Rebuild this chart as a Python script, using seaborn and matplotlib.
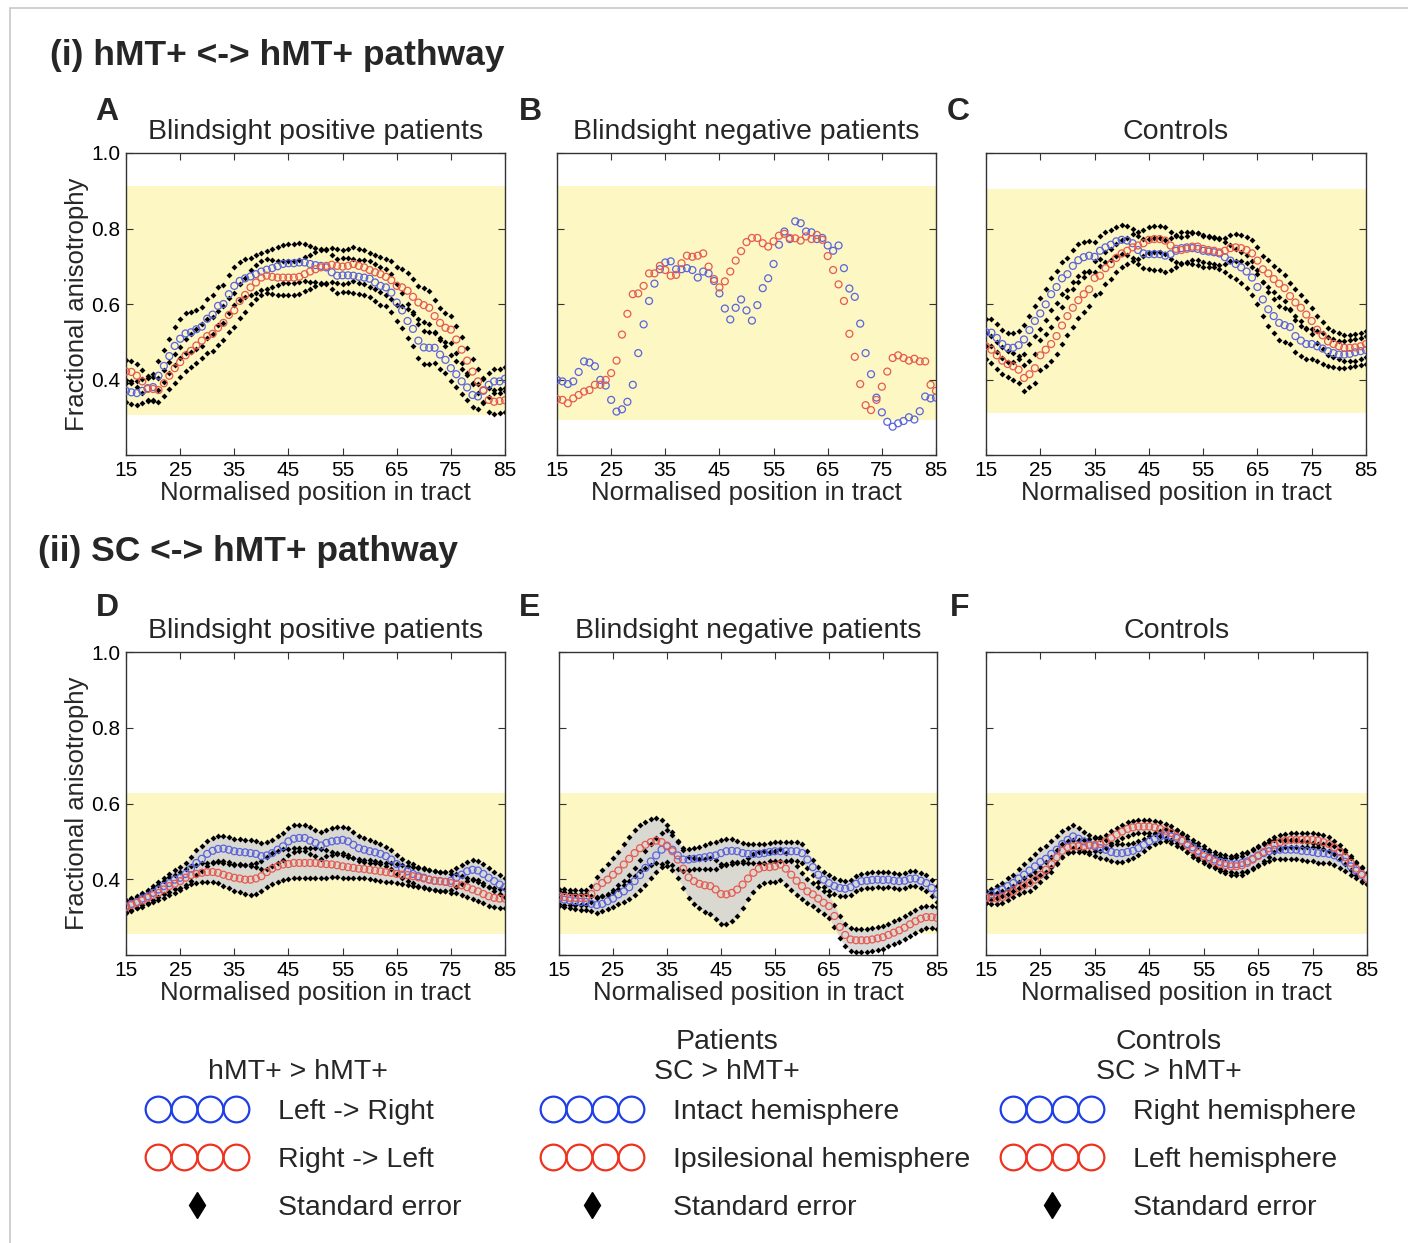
import numpy as np
import pandas as pd
import matplotlib
matplotlib.use("Agg")
import matplotlib.pyplot as plt
import seaborn as sns
from matplotlib.lines import Line2D
from matplotlib.legend_handler import HandlerLine2D
from matplotlib.patches import Rectangle

# ---------------- data (FA values in thousandths) ----------------
positions = list(range(15, 86))
x_ticks = [15, 25, 35, 45, 55, 65, 75, 85]
y_ticks = [0.2, 0.4, 0.6, 0.8, 1.0]
y_ticklabels = ["", "0.4", "0.6", "0.8", "1.0"]

A_blue = [370, 366, 364, 370, 377, 380, 410, 436, 462, 489,
          508, 522, 525, 533, 540, 561, 572, 595, 600, 626,
          648, 661, 668, 673, 679, 686, 691, 695, 700, 706,
          708, 708, 710, 710, 706, 703, 701, 697, 684, 675,
          676, 676, 675, 672, 670, 667, 657, 648, 644, 630,
          604, 583, 555, 534, 503, 485, 484, 484, 466, 452,
          430, 414, 395, 379, 359, 355, 370, 386, 395, 395, 402]
A_red = [421, 420, 410, 395, 375, 375, 372, 390, 410, 430,
         446, 464, 476, 490, 503, 515, 521, 537, 550, 571,
         583, 608, 624, 644, 657, 670, 675, 672, 670, 670,
         670, 670, 672, 679, 686, 692, 697, 701, 704, 701,
         699, 701, 706, 701, 697, 690, 684, 679, 672, 663,
         648, 644, 635, 619, 604, 597, 590, 568, 550, 537,
         532, 506, 479, 450, 421, 395, 372, 346, 341, 343, 345]
A_blue_se = [30, 30, 31, 32, 33, 35, 38, 42, 46, 50,
             52, 53, 53, 52, 52, 52, 51, 50, 50, 50,
             50, 50, 50, 50, 50, 50, 50, 50, 50, 50,
             52, 52, 52, 50, 48, 46, 45, 45, 45, 45,
             45, 45, 45, 45, 46, 48, 50, 50, 50, 50,
             48, 46, 45, 45, 45, 44, 42, 40, 38, 36,
             35, 34, 33, 32, 32, 32, 32, 32, 32, 32, 32]
A_red_se = [30, 30, 30, 30, 30, 31, 32, 34, 36, 38,
            40, 42, 44, 45, 45, 45, 45, 45, 45, 45,
            45, 45, 45, 45, 45, 45, 45, 45, 45, 45,
            45, 45, 45, 45, 45, 45, 45, 45, 45, 45,
            45, 45, 45, 45, 45, 45, 45, 46, 48, 50,
            50, 50, 48, 46, 45, 45, 44, 42, 40, 38,
            36, 35, 34, 33, 32, 32, 32, 32, 32, 32, 32]

B_blue = [399, 395, 388, 395, 420, 448, 445, 435, 399, 384,
          346, 315, 321, 341, 386, 470, 546, 608, 654, 692,
          710, 713, 692, 692, 695, 690, 670, 686, 681, 661,
          628, 588, 559, 590, 612, 583, 556, 597, 642, 668,
          706, 757, 792, 772, 819, 814, 792, 790, 772, 775,
          755, 741, 755, 695, 641, 619, 548, 470, 414, 352,
          313, 288, 275, 284, 290, 300, 294, 316, 355, 350, 352]
B_red = [348, 346, 337, 350, 359, 368, 372, 386, 386, 399,
         417, 450, 519, 574, 626, 628, 648, 681, 681, 701,
         690, 675, 677, 708, 728, 725, 728, 734, 699, 666,
         644, 660, 686, 715, 740, 764, 775, 775, 761, 752,
         766, 781, 786, 775, 774, 768, 779, 772, 783, 770,
         727, 690, 652, 608, 521, 460, 388, 332, 319, 346,
         381, 421, 457, 464, 457, 450, 455, 448, 448, 386, 370]

C_blue = [525, 524, 510, 494, 484, 484, 491, 506, 531, 555,
          575, 599, 626, 645, 668, 679, 701, 716, 724, 728,
          725, 741, 750, 757, 766, 770, 768, 761, 743, 734,
          732, 732, 732, 728, 732, 741, 748, 750, 748, 746,
          741, 739, 737, 734, 724, 715, 706, 697, 686, 670,
          645, 612, 586, 568, 550, 544, 539, 515, 503, 494,
          494, 488, 482, 475, 470, 466, 466, 468, 472, 475, 478]
C_red = [488, 479, 464, 450, 441, 435, 426, 404, 414, 430,
         464, 479, 494, 515, 543, 568, 590, 610, 626, 639,
         669, 675, 695, 706, 722, 734, 741, 750, 755, 761,
         770, 772, 772, 768, 755, 746, 743, 746, 752, 752,
         746, 743, 741, 737, 741, 748, 750, 748, 743, 734,
         715, 692, 681, 666, 654, 642, 621, 604, 590, 572,
         555, 532, 517, 501, 494, 488, 484, 484, 485, 488, 494]
C_blue_se = [35, 35, 36, 37, 38, 38, 38, 38, 38, 40,
             40, 42, 42, 42, 42, 42, 42, 42, 40, 40,
             40, 40, 40, 40, 38, 38, 38, 38, 38, 38,
             40, 42, 42, 42, 42, 42, 42, 42, 42, 42,
             42, 42, 40, 40, 40, 40, 40, 42, 44, 45,
             45, 45, 45, 45, 45, 45, 45, 42, 40, 40,
             40, 40, 40, 38, 38, 36, 36, 36, 36, 36, 36]
C_red_se = [35, 35, 35, 35, 35, 35, 35, 35, 35, 38,
            40, 42, 45, 48, 50, 50, 50, 48, 46, 45,
            45, 45, 42, 40, 38, 36, 35, 35, 35, 35,
            35, 35, 35, 35, 35, 35, 35, 35, 35, 35,
            35, 35, 35, 35, 35, 35, 35, 35, 35, 35,
            35, 35, 35, 35, 35, 35, 35, 35, 35, 35,
            35, 35, 35, 35, 35, 35, 35, 35, 35, 35, 35]

D_blue = [329, 335, 340, 349, 355, 364, 373, 382, 390, 399,
          404, 414, 428, 443, 454, 467, 475, 480, 481, 478,
          474, 472, 471, 469, 467, 461, 463, 469, 478, 487,
          500, 507, 509, 509, 502, 496, 489, 496, 500, 502,
          504, 500, 491, 482, 478, 474, 471, 467, 461, 452,
          440, 428, 421, 414, 408, 404, 399, 396, 395, 393,
          396, 404, 412, 421, 425, 423, 414, 404, 395, 386, 379]
D_red = [326, 332, 338, 344, 351, 358, 364, 373, 382, 388,
         395, 404, 411, 414, 417, 419, 419, 417, 412, 408,
         404, 402, 399, 399, 402, 408, 419, 428, 434, 439,
         440, 443, 443, 443, 443, 443, 441, 440, 439, 437,
         434, 432, 430, 428, 427, 425, 423, 421, 419, 417,
         414, 412, 411, 408, 405, 402, 399, 396, 395, 393,
         390, 388, 384, 379, 373, 368, 361, 355, 351, 349, 349]
D_blue_se = [15, 15, 15, 16, 17, 18, 20, 22, 24, 26,
             28, 30, 32, 33, 33, 33, 33, 33, 33, 33,
             33, 33, 33, 34, 35, 35, 35, 35, 35, 35,
             35, 35, 35, 35, 35, 35, 35, 35, 35, 35,
             35, 35, 35, 33, 32, 30, 28, 26, 25, 25,
             25, 25, 25, 25, 25, 25, 25, 25, 25, 25,
             25, 25, 25, 25, 25, 25, 25, 25, 25, 25, 25]
D_red_se = [15, 15, 15, 16, 17, 18, 20, 22, 24, 24,
            24, 24, 24, 24, 25, 25, 26, 28, 30, 32,
            34, 36, 38, 40, 40, 40, 40, 40, 40, 40,
            40, 40, 40, 40, 40, 40, 38, 36, 34, 32,
            30, 28, 26, 25, 25, 25, 25, 25, 25, 25,
            25, 25, 25, 25, 25, 25, 25, 25, 25, 25,
            25, 25, 25, 25, 25, 25, 25, 25, 25, 25, 25]

E_blue = [349, 346, 344, 342, 340, 340, 335, 332, 335, 342,
          349, 360, 368, 379, 395, 411, 430, 447, 463, 478,
          487, 478, 463, 452, 452, 454, 456, 458, 461, 463,
          469, 474, 475, 474, 469, 467, 467, 467, 469, 472,
          474, 474, 474, 474, 474, 469, 452, 432, 412, 399,
          390, 382, 377, 375, 379, 388, 395, 396, 398, 399,
          398, 399, 396, 395, 396, 401, 402, 396, 390, 377, 361]
E_red = [355, 353, 351, 351, 351, 351, 361, 379, 390, 399,
         412, 423, 439, 454, 469, 482, 491, 498, 502, 498,
         489, 474, 452, 428, 405, 395, 388, 384, 382, 373,
         361, 360, 364, 373, 386, 402, 417, 428, 432, 432,
         434, 439, 428, 412, 396, 382, 368, 360, 349, 338,
         329, 303, 274, 253, 241, 239, 239, 239, 241, 244,
         247, 253, 259, 265, 272, 281, 289, 296, 300, 300, 298]
E_blue_se = [20, 20, 20, 20, 20, 20, 20, 20, 20, 20,
             22, 25, 28, 32, 36, 40, 44, 45, 45, 45,
             42, 40, 35, 30, 28, 28, 30, 32, 35, 35,
             35, 33, 30, 28, 26, 25, 25, 25, 25, 25,
             25, 25, 25, 25, 25, 25, 22, 20, 20, 20,
             20, 20, 20, 20, 20, 20, 20, 20, 20, 20,
             20, 20, 20, 20, 20, 20, 20, 20, 20, 20, 20]
E_red_se = [20, 20, 20, 20, 20, 20, 22, 28, 35, 40,
            45, 50, 55, 58, 60, 60, 60, 60, 60, 58,
            55, 50, 48, 50, 55, 60, 65, 70, 74, 77,
            78, 78, 75, 70, 62, 55, 50, 45, 42, 40,
            40, 42, 42, 40, 38, 35, 32, 30, 30, 30,
            30, 30, 30, 30, 30, 30, 30, 30, 30, 30,
            30, 30, 30, 30, 30, 30, 30, 30, 30, 30, 30]

F_blue = [353, 360, 367, 373, 382, 390, 402, 412, 423, 434,
          446, 454, 467, 478, 493, 504, 513, 507, 500, 491,
          487, 482, 478, 472, 469, 469, 472, 475, 482, 491,
          500, 507, 513, 516, 513, 509, 502, 493, 484, 475,
          467, 458, 452, 446, 443, 440, 440, 443, 447, 454,
          463, 469, 474, 478, 478, 478, 478, 478, 475, 474,
          472, 469, 469, 467, 463, 456, 446, 434, 423, 412, 402]
F_red = [351, 349, 349, 353, 360, 368, 377, 384, 390, 399,
         412, 425, 440, 458, 475, 484, 487, 487, 487, 489,
         491, 493, 500, 509, 518, 526, 533, 537, 539, 539,
         539, 537, 533, 528, 522, 513, 502, 489, 478, 469,
         461, 454, 447, 440, 437, 434, 434, 437, 443, 452,
         461, 472, 482, 491, 498, 502, 504, 504, 504, 504,
         504, 502, 498, 493, 484, 472, 458, 443, 428, 414, 402]
F_blue_se = [15, 15, 16, 18, 20, 22, 25, 28, 30, 32,
             34, 35, 35, 35, 34, 32, 30, 28, 26, 25,
             25, 25, 25, 25, 24, 23, 22, 20, 18, 16,
             15, 15, 15, 16, 18, 20, 20, 20, 20, 20,
             20, 20, 20, 20, 20, 22, 24, 25, 25, 25,
             25, 25, 25, 25, 25, 25, 25, 25, 25, 25,
             25, 25, 25, 25, 25, 25, 25, 22, 20, 18, 15]
F_red_se = [15, 15, 15, 15, 15, 15, 16, 18, 20, 20,
            20, 20, 20, 18, 17, 16, 16, 16, 16, 16,
            17, 18, 18, 18, 18, 18, 18, 18, 18, 18,
            18, 18, 18, 18, 18, 18, 18, 18, 18, 18,
            18, 18, 18, 18, 20, 22, 24, 25, 25, 25,
            25, 24, 22, 20, 18, 18, 18, 18, 18, 18,
            18, 18, 18, 18, 18, 18, 18, 18, 18, 18, 15]

# normal-range bands (low, high)
band_A = [0.307, 0.912]
band_B = [0.293, 0.912]
band_C = [0.312, 0.904]
band_D = [0.256, 0.628]
band_E = [0.256, 0.628]
band_F = [0.256, 0.628]

panel_titles = ["Blindsight positive patients", "Blindsight negative patients", "Controls",
                "Blindsight positive patients", "Blindsight negative patients", "Controls"]
panel_letters = ["A", "B", "C", "D", "E", "F"]
section_titles = ["(i) hMT+ <-> hMT+ pathway", "(ii) SC <-> hMT+ pathway"]
x_label = "Normalised position in tract"
y_label = "Fractional anisotrophy"

legend_headers = ["hMT+ > hMT+", "Patients\nSC > hMT+", "Controls\nSC > hMT+"]
legend_labels = [["Left -> Right", "Right -> Left", "Standard error"],
                 ["Intact hemisphere", "Ipsilesional hemisphere", "Standard error"],
                 ["Right hemisphere", "Left hemisphere", "Standard error"]]

for arr in [A_blue, A_red, A_blue_se, A_red_se, B_blue, B_red, C_blue, C_red, C_blue_se, C_red_se,
            D_blue, D_red, D_blue_se, D_red_se, E_blue, E_red, E_blue_se, E_red_se,
            F_blue, F_red, F_blue_se, F_red_se]:
    assert len(arr) == len(positions), len(arr)

# ---------------- style ----------------
sns.set_theme(style="ticks")
plt.rcParams["font.family"] = ["Liberation Sans", "DejaVu Sans"]
plt.rcParams.update({
    "xtick.direction": "in", "ytick.direction": "in",
    "xtick.top": True, "ytick.right": True,
    "xtick.major.size": 5, "ytick.major.size": 5,
    "xtick.major.width": 0.8, "ytick.major.width": 0.8,
    "axes.edgecolor": "#333333", "axes.linewidth": 1.0,
    "xtick.color": "#333333", "ytick.color": "#333333",
    "xtick.labelcolor": "black", "ytick.labelcolor": "black",
})

YELLOW = "#fcf7c3"
SHADE = "#d4d4d4"
BLUE = "#5a64dc"
RED = "#e65a50"
LEG_BLUE = "#1f3fe6"
LEG_RED = "#ee3320"

W, H = 1408, 1243
fig = plt.figure(figsize=(W / 100, H / 100), dpi=100)
fig.patch.set_facecolor("white")


def box(l, r, t, b):
    return [l / W, 1 - b / H, (r - l) / W, (b - t) / H]


def draw_panel(ax, blue, red, blue_se, red_se, band, shade, ylim):
    df = pd.DataFrame({"pos": positions,
                       "blue": np.array(blue) / 1000.0,
                       "red": np.array(red) / 1000.0})
    ax.axhspan(band[0], band[1], color=YELLOW, lw=0, zorder=0)
    series = [("blue", blue_se, BLUE), ("red", red_se, RED)]
    for key, se, col in series:
        if se is None:
            continue
        s = np.array(se) / 1000.0
        lo = df[key] - s
        hi = df[key] + s
        if shade:
            ax.fill_between(df["pos"], lo, hi, color=SHADE, alpha=0.85, lw=0, zorder=1)
        for yy in (lo, hi):
            sns.scatterplot(x=df["pos"], y=yy, ax=ax, marker="D", s=9,
                            color="black", edgecolor="black", linewidth=0,
                            zorder=2, legend=False)
    for key, se, col in series:
        sns.scatterplot(data=df, x="pos", y=key, ax=ax, marker="o", s=25,
                        facecolor="none", edgecolor=col, linewidth=0.9,
                        zorder=3, legend=False)
    ax.set_xlim(15, 85)
    ax.set_ylim(*ylim)
    ax.set_xticks(x_ticks)
    ax.set_xticklabels([str(t) for t in x_ticks], fontsize=15)
    ax.set_yticks(y_ticks)
    ax.tick_params(axis="both", pad=4, labelsize=15)
    ax.set_xlabel(x_label, fontsize=18.5, labelpad=1)
    ax.set_ylabel("")
    for sp in ax.spines.values():
        sp.set_visible(True)


panels = [
    (box(126, 505, 153, 455), A_blue, A_red, A_blue_se, A_red_se, band_A, False),
    (box(557, 936, 153, 455), B_blue, B_red, None, None, band_B, False),
    (box(986, 1366, 153, 455), C_blue, C_red, C_blue_se, C_red_se, band_C, False),
    (box(126, 505, 652, 955), D_blue, D_red, D_blue_se, D_red_se, band_D, True),
    (box(559, 937, 652, 955), E_blue, E_red, E_blue_se, E_red_se, band_E, True),
    (box(986, 1367, 652, 955), F_blue, F_red, F_blue_se, F_red_se, band_F, True),
]

letter_pos = [(107, 112), (530, 112), (958, 112), (107, 608), (530, 608), (960, 608)]

for i, (rect, b, r, bse, rse, band, shade) in enumerate(panels):
    ax = fig.add_axes(rect)
    draw_panel(ax, b, r, bse, rse, band, shade, (0.2, 1.0))
    ax.set_title(panel_titles[i], fontsize=20.5, pad=10)
    if i % 3 == 0:
        ax.set_yticklabels(y_ticklabels)
        ax.set_ylabel(y_label, fontsize=18.5, labelpad=2)
    else:
        ax.set_yticklabels([])
    lx, ly = letter_pos[i]
    fig.text(lx / W, 1 - ly / H, panel_letters[i], fontsize=23, fontweight="bold",
             ha="center", va="center")

fig.text(50 / W, 1 - 55 / H, section_titles[0], fontsize=25.5, fontweight="bold",
         ha="left", va="center")
fig.text(38 / W, 1 - 552 / H, section_titles[1], fontsize=25.5, fontweight="bold",
         ha="left", va="center")

# ---------------- legends ----------------
header_pos = [(298, [1072]), (727, [1042, 1072]), (1169, [1042, 1072])]
for (hx, hys), txt in zip(header_pos, legend_headers):
    for hy, line in zip(hys, txt.split("\n")):
        fig.text(hx / W, 1 - hy / H, line, fontsize=20.5, ha="center", va="center")

legend_left = [149.5, 544.5, 1004.5]
for col, lx in enumerate(legend_left):
    hb = Line2D([], [], ls="", marker="o", ms=18.5, mfc="none", mec=LEG_BLUE, mew=1.6)
    hr = Line2D([], [], ls="", marker="o", ms=18.5, mfc="none", mec=LEG_RED, mew=1.6)
    hd = Line2D([], [], ls="", marker="d", ms=13, color="black")
    fig.legend(handles=[hb, hr, hd], labels=legend_labels[col], loc="center left",
               bbox_to_anchor=(lx / W, 1 - 1160 / H), frameon=False, numpoints=4,
               handlelength=3.34, handletextpad=1.17, borderpad=0, borderaxespad=0,
               labelspacing=0.78, fontsize=20.5,
               handler_map={hd: HandlerLine2D(numpoints=1)})

fig.patches.append(Rectangle((10 / W, -0.01), 1.0, 1 - 8 / H + 0.01, transform=fig.transFigure,
                             fill=False, edgecolor="#c8c8c8", lw=1.2))

fig.savefig("out.png", dpi=100, facecolor="white")
